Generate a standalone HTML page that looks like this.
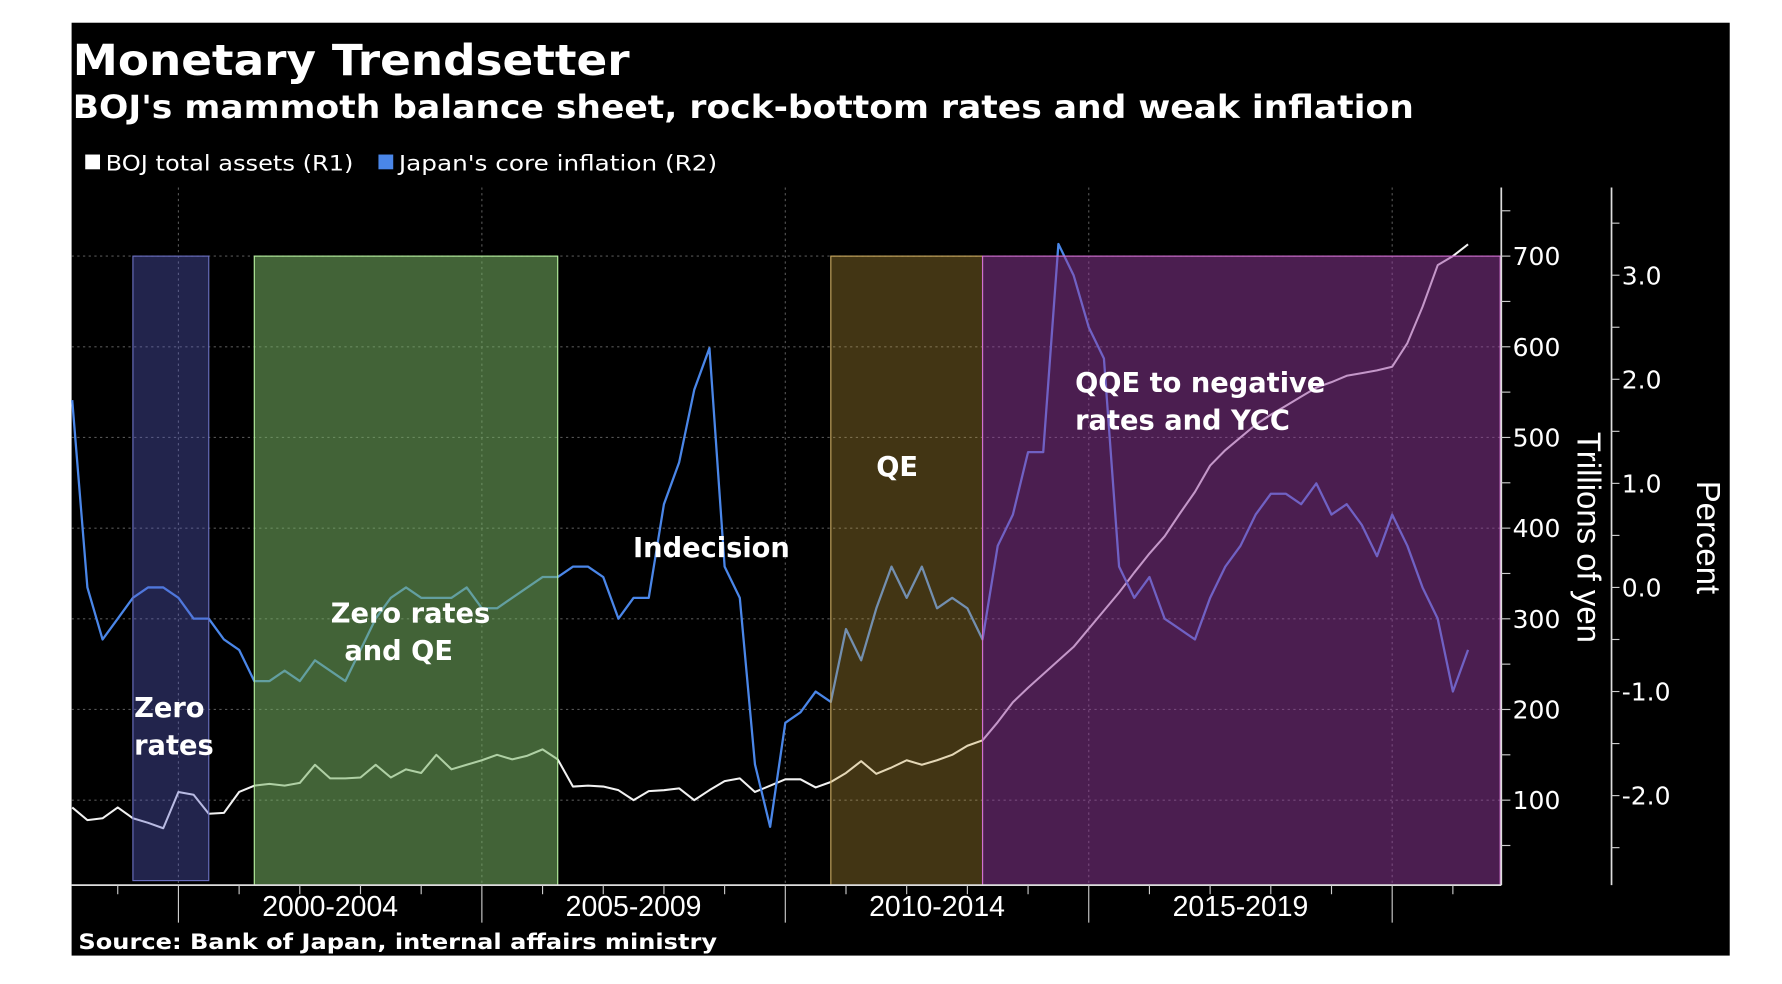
<!DOCTYPE html>
<html><head><meta charset="utf-8"><style>
html,body{margin:0;padding:0;background:#fff;width:1782px;height:984px;overflow:hidden}
svg{display:block}
text{fill:#fff}
</style></head><body>
<svg id="chart" width="1782" height="984" viewBox="0 0 1568 866" preserveAspectRatio="none" xmlns="http://www.w3.org/2000/svg">
<rect x="63" y="20" width="1459" height="821" fill="#000"/>
<text x="64" y="66" font-family="DejaVu Sans" font-weight="bold" font-size="38" textLength="490" lengthAdjust="spacingAndGlyphs">Monetary Trendsetter</text>
<text x="64" y="104" font-family="DejaVu Sans" font-weight="bold" font-size="28" textLength="1180" lengthAdjust="spacingAndGlyphs">BOJ's mammoth balance sheet, rock-bottom rates and weak inflation</text>
<g>
<rect x="75" y="136" width="13" height="13" fill="#fff"/>
<text x="93" y="150" font-family="DejaVu Sans" font-size="19" textLength="218" lengthAdjust="spacingAndGlyphs">BOJ total assets (R1)</text>
<rect x="333" y="136" width="13" height="13" fill="#4a86e8"/>
<text x="351" y="150" font-family="DejaVu Sans" font-size="19" textLength="280" lengthAdjust="spacingAndGlyphs">Japan's core inflation  (R2)</text>
</g>
<g id="grid"></g>
<g id="series"></g>
<g id="boxes"></g>
<g id="axes"></g>
<g id="labels"></g>
<text x="69" y="835" font-family="DejaVu Sans" font-weight="bold" font-size="19" textLength="562" lengthAdjust="spacingAndGlyphs">Source: Bank of Japan, internal affairs ministry</text>
</svg>
<script>
const assets = [92,78,80,92,80,75,69,109,106,85,86,109,116,118,116,119,139,124,124,125,139,125,134,130,150,134,139,144,150,145,149,156,145,115,116,115,111,100,110,111,113,100,111,121,124,109,116,123,123,114,120,130,143,129,136,144,139,144,150,160,166,186,208,224,239,254,269,289,309,329,351,372,391,416,440,469,486,500,514,525,535,545,555,561,568,571,574,578,604,644,690,700,713];
const inflation = [1.8,0.0,-0.5,-0.3,-0.1,0.0,0.0,-0.1,-0.3,-0.3,-0.5,-0.6,-0.9,-0.9,-0.8,-0.9,-0.7,-0.8,-0.9,-0.6,-0.3,-0.1,0.0,-0.1,-0.1,-0.1,0.0,-0.2,-0.2,-0.1,0.0,0.1,0.1,0.2,0.2,0.1,-0.3,-0.1,-0.1,0.8,1.2,1.9,2.3,0.2,-0.1,-1.7,-2.3,-1.3,-1.2,-1.0,-1.1,-0.4,-0.7,-0.2,0.2,-0.1,0.2,-0.2,-0.1,-0.2,-0.5,0.4,0.7,1.3,1.3,3.3,3.0,2.5,2.2,0.2,-0.1,0.1,-0.3,-0.4,-0.5,-0.1,0.2,0.4,0.7,0.9,0.9,0.8,1.0,0.7,0.8,0.6,0.3,0.7,0.4,0.0,-0.3,-1.0,-0.6];
const startYear = 1998.25;
const xTickLabels = ["2000-2004","2005-2009","2010-2014","2015-2019"];
const leftTicks = [100,200,300,400,500,600,700];
const rightTicks = [-2,-1,0,1,2,3];
const periodNames = ["Zero rates","Zero rates and QE","QE","QQE to negative rates and YCC"];
const periodStart = [1999.25,2001.25,2010.75,2013.25];
const periodEnd = [2000.5,2006.25,2013.25,2021.8];

const NS="http://www.w3.org/2000/svg";
const xs = y => 157 + (y-2000)*53.4;
const yl = v => 784 - v*0.798;
const yr = v => 517 - v*91.6;
function mk(tag, attrs, parent){const e=document.createElementNS(NS,tag);for(const k in attrs)e.setAttribute(k,attrs[k]);document.getElementById(parent).appendChild(e);return e;}

for(const t of leftTicks){const l=mk('line',{x1:63,x2:1321,y1:yl(t),y2:yl(t),stroke:'#555','stroke-dasharray':'2,3','stroke-width':1},'grid');

}
for(let y=2000;y<=2020;y+=5){const l=mk('line',{x1:xs(y),x2:xs(y),y1:165,y2:779,stroke:'#555','stroke-dasharray':'2,3','stroke-width':1},'grid');

}

const fills=['rgba(90,95,200,0.38)','rgba(120,180,100,0.55)','rgba(200,160,60,0.33)','rgba(150,60,160,0.5)'];
const edges=['#6a6fc0','#b6f0a0','#c8a860','#d070d0'];
const bottoms=[775,779,779,779];

const ptsA=assets.map((v,i)=>xs(startYear+i*0.25)+','+yl(v)).join(' ');
const pa=mk('polyline',{points:ptsA,fill:'none',stroke:'#f2f2f2','stroke-width':1.8,'stroke-linejoin':'round'},'series');


const ptsI=inflation.map((v,i)=>xs(startYear+i*0.25)+','+yr(v)).join(' ');
const pi=mk('polyline',{points:ptsI,fill:'none',stroke:'#4a86e8','stroke-width':2,'stroke-linejoin':'round'},'series');



periodStart.forEach((s,i)=>{const x1=xs(s),x2=Math.min(xs(periodEnd[i]),1320);const r=mk('rect',{x:x1,y:yl(700),width:x2-x1,height:bottoms[i]-yl(700),fill:fills[i],stroke:edges[i],'stroke-width':1},'boxes');

});

const ax=mk('line',{x1:63,x2:1321,y1:779,y2:779,stroke:'#ddd','stroke-width':1.5},'axes');


for(let y=1999;y<=2021;y++){const big=(y%5===0);const l=mk('line',{x1:xs(y),x2:xs(y),y1:779,y2:big?812:787,stroke:'#ccc','stroke-width':1},'axes');

}
xTickLabels.forEach((t,i)=>{const e=mk('text',{x:xs(2002.5+5*i),y:806,'text-anchor':'middle','font-family':'Liberation Sans Narrow, Liberation Sans, sans-serif','font-size':25},'axes');e.textContent=t;

});
const la=mk('line',{x1:1321,x2:1321,y1:165,y2:779,stroke:'#ddd','stroke-width':1.5},'axes');


for(let v=50;v<=750;v+=50){const l=mk('line',{x1:1321,x2:1329,y1:yl(v),y2:yl(v),stroke:'#ccc','stroke-width':1},'axes');

}
leftTicks.forEach(t=>{const e=mk('text',{x:1331,y:yl(t)+8,'font-family':'DejaVu Sans, sans-serif','font-size':22},'axes');e.textContent=t;

});
const ra=mk('line',{x1:1418,x2:1418,y1:165,y2:779,stroke:'#ddd','stroke-width':1.5},'axes');


for(let v=-2.5;v<=3.6;v+=0.5){const l=mk('line',{x1:1418,x2:1425,y1:yr(v),y2:yr(v),stroke:'#ccc','stroke-width':1},'axes');

}
rightTicks.forEach(t=>{const e=mk('text',{x:1427,y:yr(t)+8,'font-family':'DejaVu Sans, sans-serif','font-size':22},'axes');e.textContent=(t<0?'-':'')+Math.abs(t).toFixed(1);

});
const t1=mk('text',{x:0,y:0,transform:'translate(1388,473) rotate(90)','text-anchor':'middle','font-family':'Liberation Sans Narrow, Liberation Sans, sans-serif','font-size':29},'axes');t1.textContent='Trillions of yen';


const t2=mk('text',{x:0,y:0,transform:'translate(1493,473) rotate(90)','text-anchor':'middle','font-family':'Liberation Sans Narrow, Liberation Sans, sans-serif','font-size':29},'axes');t2.textContent='Percent';



const ann=[['Zero',118,631],['rates',118,664],['Zero rates',291,548],['and QE',303,581],['Indecision',557,490],['QE',771,419],['QQE to negative',946,345],['rates and YCC',946,378]];
ann.forEach(a=>{const e=mk('text',{x:a[1],y:a[2],'font-family':'DejaVu Sans, sans-serif','font-weight':'bold','font-size':24},'labels');e.textContent=a[0];

});
</script>
</body></html>
